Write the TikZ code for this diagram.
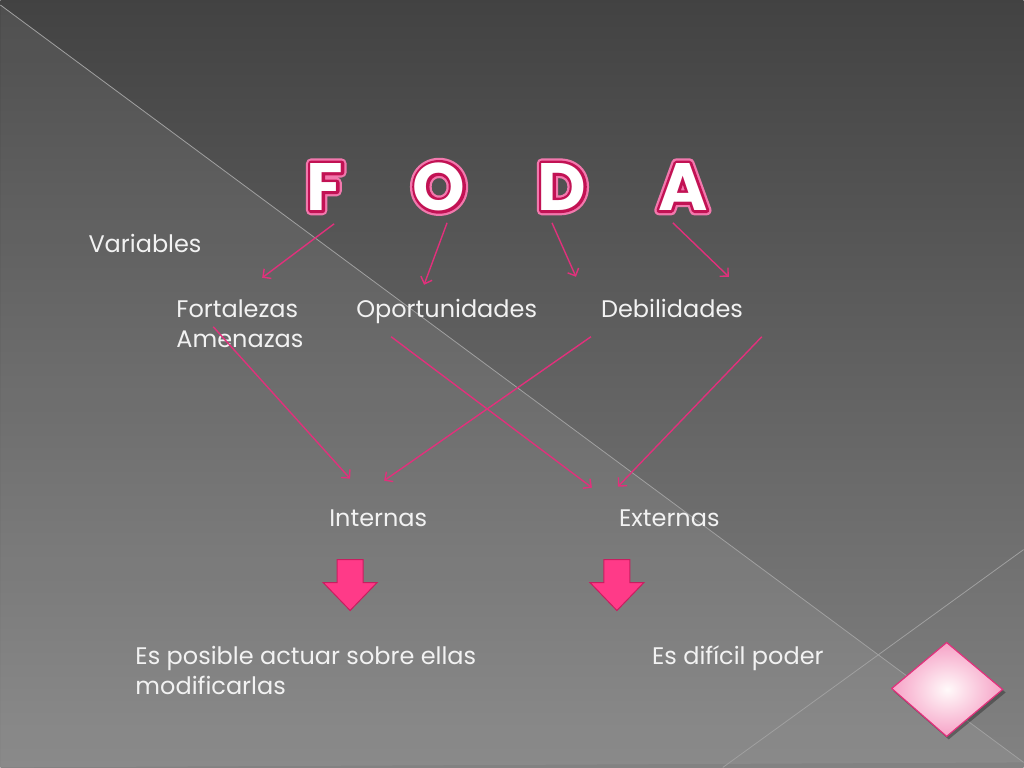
\documentclass[tikz,border=0pt]{standalone}
\usepackage{fontspec}
\setmainfont{Poppins}
\newfontfamily\fodafont{Poppins}
\usetikzlibrary{arrows.meta}
\definecolor{rosa}{HTML}{E2307C}
\definecolor{rosaclaro}{HTML}{F27AAE}
\definecolor{carmin}{HTML}{B5104C}
\definecolor{flecha}{HTML}{FF3A88}
\definecolor{flechaborde}{HTML}{C81E60}
\definecolor{texto}{HTML}{F2F2F2}
\definecolor{raya}{HTML}{A0A0A0}
% contorno de letra: grosor y color (RGB de 0 a 1)
\newcommand{\trazo}[3]{\special{pdf:literal 1 Tr 1 j #1 w #2 RG}#3\special{pdf:literal 0 Tr 1 w}}
\tikzset{
  link/.style={rosa, line width=1.4pt, -{Straight Barb[length=6pt,width=12pt]}},
  word/.style={text=texto, anchor=base west, inner sep=0pt, font=\fontsize{24}{30}\selectfont},
  fodaletter/.style={text=white, inner sep=0pt, font=\fodafont\bfseries\fontsize{67}{67}\selectfont}
}
\begin{document}
\begin{tikzpicture}[x=1pt,y=-1pt]
% fondo
\shade[top color=black!74, bottom color=black!49] (0,0) rectangle (1024,768);
\fill[white, opacity=0.07] (0,5) -- (1024,763) -- (0,768) -- cycle;
\draw[raya, line width=0.8pt] (0,5) -- (1024,763);
\draw[raya, line width=0.8pt] (723,768) -- (1024,550);

% titulo
\foreach \l/\x in {F/325,O/439,D/562,A/683}{
  \node[fodaletter] (\l-glow) at (\x,187) {\trazo{10}{0.95 0.47 0.68}{\l}};
  \node[fodaletter] (\l-rim) at (\x,187) {\trazo{5.5}{0.76 0.07 0.33}{\l}};
  \node[fodaletter] (\l) at (\x,187) {\l};
}

% textos
\node[word] (var) at (88,253) {Variables};
\node[word] (fort) at (176,318) {Fortalezas};
\node[word] (amen) at (176,348) {Amenazas};
\node[word] (opor) at (356,318) {Oportunidades};
\node[word] (debil) at (601,318) {Debilidades};
\node[word] (int) at (329,527) {Internas};
\node[word] (ext) at (619,527) {Externas};
\node[word] (posible) at (135,665) {Es posible actuar sobre ellas};
\node[word] (modif) at (135,695) {modificarlas};
\node[word] (dificil) at (652,665) {Es difícil poder};

% extremos de las flechas
\coordinate (f1) at (334,224); \coordinate (f2) at (262,278);
\coordinate (o1) at (447,223); \coordinate (o2) at (424,285);
\coordinate (d1) at (552,223); \coordinate (d2) at (576,277);
\coordinate (a1) at (673,223); \coordinate (a2) at (729,277);
\coordinate (am1) at (213,327); \coordinate (am2) at (350,479);
\coordinate (op1) at (391,337); \coordinate (op2) at (592,488);
\coordinate (de1) at (591,337); \coordinate (de2) at (384,481);
\coordinate (ex1) at (762,337); \coordinate (ex2) at (618,487);

\draw[link] (f1) -- (f2);
\draw[link] (o1) -- (o2);
\draw[link] (d1) -- (d2);
\draw[link] (a1) -- (a2);
\draw[link] (am1) -- (am2);
\draw[link] (op1) -- (op2);
\draw[link] (de1) -- (de2);
\draw[link] (ex1) -- (ex2);

% flechas gruesas
\foreach \x in {350,617}
\draw[shift={(\x,0)}, fill=flecha, draw=flechaborde, line width=1pt]
  (-13,560) -- (13,560) -- (13,583) -- (27,583) -- (0,611) -- (-27,583) -- (-13,583) -- cycle;

% rombo
\fill[black, opacity=0.3] (949,645) -- (1006,693) -- (949,740) -- (894,692) -- cycle;
\shade[inner color=white!92!pink, outer color=rosaclaro!70!white]
  (947,643) -- (1003,690) -- (947,737) -- (892,689) -- cycle;
\draw[rosa, line width=1.2pt] (947,643) -- (1003,690) -- (947,737) -- (892,689) -- cycle;
\end{tikzpicture}
\end{document}
